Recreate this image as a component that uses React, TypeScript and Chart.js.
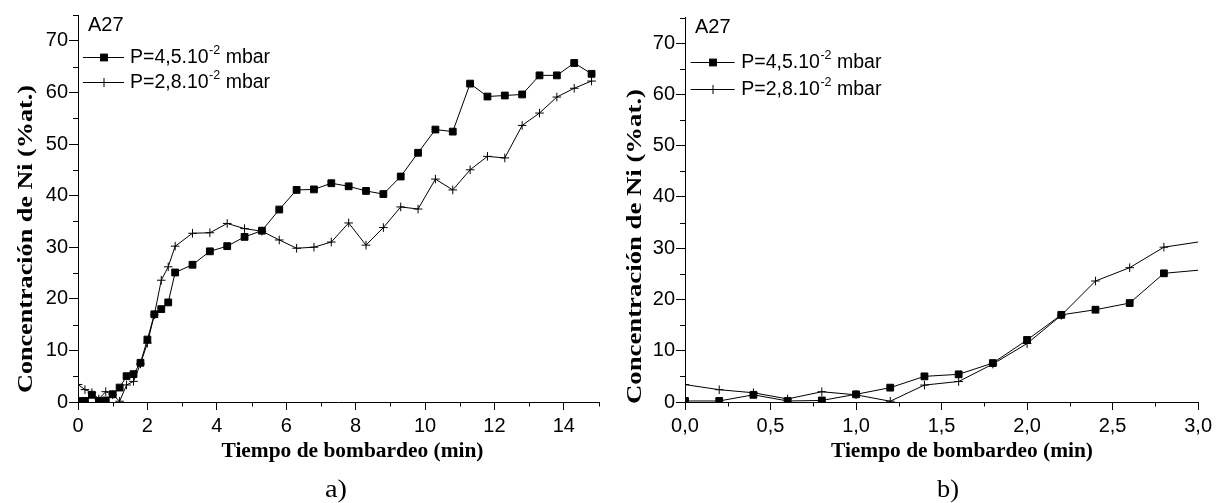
import React, { useEffect, useRef } from 'react';
import { Chart, registerables } from 'chart.js';

Chart.register(...registerables);

// ---- data (time in min, Ni concentration in %at.) ----
const timeMin = [0, 0.2, 0.4, 0.6, 0.8, 1.0, 1.2, 1.4, 1.6, 1.8, 2.0, 2.2, 2.4, 2.6, 2.8, 3.3, 3.8, 4.3, 4.8, 5.3, 5.8, 6.3, 6.8, 7.3, 7.8, 8.3, 8.8, 9.3, 9.8, 10.3, 10.8, 11.3, 11.8, 12.3, 12.8, 13.3, 13.8, 14.3, 14.8];
const niP45 = [0.2, 0.2, 1.4, 0.2, 0.3, 1.5, 2.8, 5.0, 5.4, 7.6, 12.1, 17.0, 18.0, 19.3, 25.1, 26.6, 29.2, 30.2, 32.0, 33.2, 37.3, 41.1, 41.2, 42.4, 41.8, 40.9, 40.3, 43.7, 48.3, 52.8, 52.4, 61.7, 59.2, 59.4, 59.6, 63.3, 63.3, 65.7, 63.6];
const niP28 = [3.4, 2.4, 1.8, 0.6, 2.0, 1.4, 0.15, 3.3, 4.0, 7.4, 11.4, 16.9, 23.6, 26.2, 30.2, 32.7, 32.8, 34.6, 33.6, 33.1, 31.4, 29.8, 30.0, 31.0, 34.7, 30.4, 33.8, 37.8, 37.4, 43.2, 41.1, 45.0, 47.6, 47.3, 53.6, 56.0, 59.1, 60.8, 62.2];

const seriesBase = ['P=4,5.10', 'P=2,8.10'];
const seriesSup = ['-2', '-2'];
const seriesUnit = [' mbar', ' mbar'];
const sampleTag = 'A27';

const aXTicks = ['0', '2', '4', '6', '8', '10', '12', '14'];
const bXTicks = ['0,0', '0,5', '1,0', '1,5', '2,0', '2,5', '3,0'];
const yTicks = ['0', '10', '20', '30', '40', '50', '60', '70'];

const xTitle = 'Tiempo de bombardeo (min)';
const yTitle = 'Concentración de Ni (%at.)';

const SANS = '"Liberation Sans", Arial, sans-serif';
const SERIF = '"Liberation Serif", "Times New Roman", serif';

type PanelCfg = {
  key: string;
  offset: number;
  xMax: number;
  xStep: number;
  xMinor: number[];
  xLabels: string[];
  caption: string;
  area: { left: number; right: number; top: number; bottom: number };
  legend: { x1: number; x2: number; mx: number; tx: number; y: number[] };
  tag: { x: number; y: number };
  yT: { x: number; y: number; len: number };
  xT: { x: number; y: number; len: number };
  cap: { x: number; y: number };
};

const minorA = [1, 3, 5, 7, 9, 11, 13, 15];
const minorB = [0.25, 0.75, 1.25, 1.75, 2.25, 2.75];
const minorY = [5, 15, 25, 35, 45, 55, 65, 75];

const panels: PanelCfg[] = [
  {
    key: 'a', offset: 0, xMax: 15, xStep: 2, xMinor: minorA, xLabels: aXTicks, caption: 'a)',
    area: { left: 78, right: 598.5, top: 15, bottom: 402 },
    legend: { x1: 83, x2: 124, mx: 104, tx: 130, y: [57.3, 82.3] },
    tag: { x: 88, y: 25.3 },
    yT: { x: 27, y: 239, len: 308 },
    xT: { x: 352.5, y: 457, len: 262 },
    cap: { x: 336, y: 497 },
  },
  {
    key: 'b', offset: 608, xMax: 3, xStep: 0.5, xMinor: minorB, xLabels: bXTicks, caption: 'b)',
    area: { left: 77, right: 593.5, top: 17.5, bottom: 402 },
    legend: { x1: 82.7, x2: 126.7, mx: 105, tx: 133.3, y: [61.7, 89.3] },
    tag: { x: 87, y: 27.5 },
    yT: { x: 27.5, y: 246.5, len: 315 },
    xT: { x: 354, y: 457, len: 262 },
    cap: { x: 340, y: 497 },
  },
];

function drawMarker(ctx: CanvasRenderingContext2D, kind: number, x: number, y: number) {
  ctx.save();
  ctx.strokeStyle = '#000';
  ctx.fillStyle = '#000';
  ctx.lineWidth = 1;
  if (kind === 0) {
    const s = 3.4;
    ctx.fillRect(x - s, y - s, 2 * s, 2 * s);
    ctx.strokeRect(x - s, y - s, 2 * s, 2 * s);
  } else {
    ctx.beginPath();
    ctx.moveTo(x - 4.5, y);
    ctx.lineTo(x + 4.5, y);
    ctx.moveTo(x, y - 4.5);
    ctx.lineTo(x, y + 4.5);
    ctx.stroke();
  }
  ctx.restore();
}

function stretched(ctx: CanvasRenderingContext2D, text: string, x: number, y: number, font: string, len: number, rotate: boolean, baseline: CanvasTextBaseline) {
  ctx.save();
  ctx.font = font;
  const w = ctx.measureText(text).width;
  const sx = len / w;
  ctx.translate(x, y);
  if (rotate) ctx.rotate(-Math.PI / 2);
  ctx.scale(sx, 1);
  ctx.textAlign = 'center';
  ctx.textBaseline = baseline;
  ctx.fillStyle = '#000';
  ctx.fillText(text, 0, 0);
  ctx.restore();
}

function decorPlugin(cfg: PanelCfg) {
  return {
    id: 'decor_' + cfg.key,
    afterDraw(chart: any) {
      const ctx: CanvasRenderingContext2D = chart.ctx;
      const xs = chart.scales.x;
      const ys = chart.scales.y;
      const area = chart.chartArea;
      ctx.save();
      ctx.strokeStyle = '#000';
      ctx.lineWidth = 1;
      ctx.beginPath();
      for (const v of cfg.xMinor) {
        const px = Math.round(xs.getPixelForValue(v)) + 0.5;
        ctx.moveTo(px, area.bottom);
        ctx.lineTo(px, area.bottom + 4.5);
      }
      for (const v of minorY) {
        const py = Math.round(ys.getPixelForValue(v)) + 0.5;
        ctx.moveTo(area.left, py);
        ctx.lineTo(area.left - 5, py);
      }
      ctx.stroke();
      ctx.restore();

      // sample tag
      ctx.save();
      ctx.fillStyle = '#000';
      ctx.font = '20px ' + SANS;
      ctx.textAlign = 'left';
      ctx.textBaseline = 'middle';
      ctx.fillText(sampleTag, cfg.tag.x, cfg.tag.y);
      ctx.restore();

      // legend
      for (let i = 0; i < 2; i++) {
        const y = Math.round(cfg.legend.y[i]) + 0.5;
        ctx.save();
        ctx.strokeStyle = '#000';
        ctx.lineWidth = 1;
        ctx.beginPath();
        ctx.moveTo(cfg.legend.x1, y);
        ctx.lineTo(cfg.legend.x2, y);
        ctx.stroke();
        ctx.restore();
        drawMarker(ctx, i, cfg.legend.mx, y);
        ctx.save();
        ctx.fillStyle = '#000';
        ctx.textAlign = 'left';
        ctx.textBaseline = 'middle';
        ctx.font = '19.5px ' + SANS;
        let tx = cfg.legend.tx;
        ctx.fillText(seriesBase[i], tx, y);
        tx += ctx.measureText(seriesBase[i]).width + 0.5;
        ctx.font = '12.5px ' + SANS;
        ctx.fillText(seriesSup[i], tx, y - 6.5);
        tx += ctx.measureText(seriesSup[i]).width;
        ctx.font = '19.5px ' + SANS;
        ctx.fillText(seriesUnit[i], tx, y);
        ctx.restore();
      }

      // axis titles and caption
      stretched(ctx, yTitle, cfg.yT.x, cfg.yT.y, 'bold 21px ' + SERIF, cfg.yT.len, true, 'middle');
      stretched(ctx, xTitle, cfg.xT.x, cfg.xT.y, 'bold 20px ' + SERIF, cfg.xT.len, false, 'alphabetic');
      stretched(ctx, cfg.caption, cfg.cap.x, cfg.cap.y, '26px ' + SERIF, 22, false, 'alphabetic');
    },
  };
}

function Panel({ cfg }: { cfg: PanelCfg }) {
  const ref = useRef<HTMLCanvasElement>(null);
  useEffect(() => {
    const canvas = ref.current!;
    const tickFont = { family: SANS, size: 20 };
    const chart = new Chart(canvas, {
      type: 'scatter',
      data: {
        datasets: [
          {
            label: seriesBase[0] + seriesSup[0] + seriesUnit[0],
            data: timeMin.map((x, i) => ({ x, y: niP45[i] })),
            showLine: true,
            borderColor: '#000',
            borderWidth: 1,
            pointStyle: 'rect',
            pointRadius: 4.8,
            pointBackgroundColor: '#000',
            pointBorderColor: '#000',
            pointBorderWidth: 1,
          },
          {
            label: seriesBase[1] + seriesSup[1] + seriesUnit[1],
            data: timeMin.map((x, i) => ({ x, y: niP28[i] })),
            showLine: true,
            borderColor: '#000',
            borderWidth: 1,
            pointStyle: 'cross',
            pointRadius: 4.3,
            pointBackgroundColor: '#000',
            pointBorderColor: '#000',
            pointBorderWidth: 1,
          },
        ],
      } as any,
      options: {
        responsive: false,
        animation: false,
        events: [],
        layout: {
          autoPadding: false,
          padding: { left: 0, top: cfg.area.top, right: 608 - cfg.area.right, bottom: 0 },
        },
        plugins: { legend: { display: false }, tooltip: { enabled: false } },
        scales: {
          x: {
            type: 'linear',
            min: 0,
            max: cfg.xMax,
            afterFit: (s: any) => { s.height = 503 - cfg.area.bottom; },
            ticks: {
              stepSize: cfg.xStep,
              includeBounds: false,
              autoSkip: false,
              maxRotation: 0,
              color: '#000',
              font: tickFont,
              padding: 4,
              callback: (_v: any, i: number) => cfg.xLabels[i],
            },
            grid: { display: true, drawOnChartArea: false, drawTicks: true, tickLength: 8, color: '#000', lineWidth: 1 },
            border: { display: true, color: '#000', width: 1 },
          },
          y: {
            type: 'linear',
            min: 0,
            max: 75,
            afterFit: (s: any) => { s.width = cfg.area.left; },
            ticks: {
              stepSize: 10,
              includeBounds: false,
              autoSkip: false,
              color: '#000',
              font: tickFont,
              padding: 1,
              callback: (_v: any, i: number) => yTicks[i],
            },
            grid: { display: true, drawOnChartArea: false, drawTicks: true, tickLength: 9, color: '#000', lineWidth: 1 },
            border: { display: true, color: '#000', width: 1 },
          },
        },
      } as any,
      plugins: [decorPlugin(cfg)],
    });
    return () => chart.destroy();
  }, [cfg]);
  return (
    <canvas
      ref={ref}
      width={608}
      height={503}
      style={{ position: 'absolute', left: cfg.offset, top: 0, width: 608, height: 503 }}
    />
  );
}

export default function App() {
  return (
    <div style={{ position: 'absolute', left: 0, top: 0, width: 1216, height: 503, background: '#fff', overflow: 'hidden' }}>
      {panels.map((p) => (
        <Panel key={p.key} cfg={p} />
      ))}
    </div>
  );
}
